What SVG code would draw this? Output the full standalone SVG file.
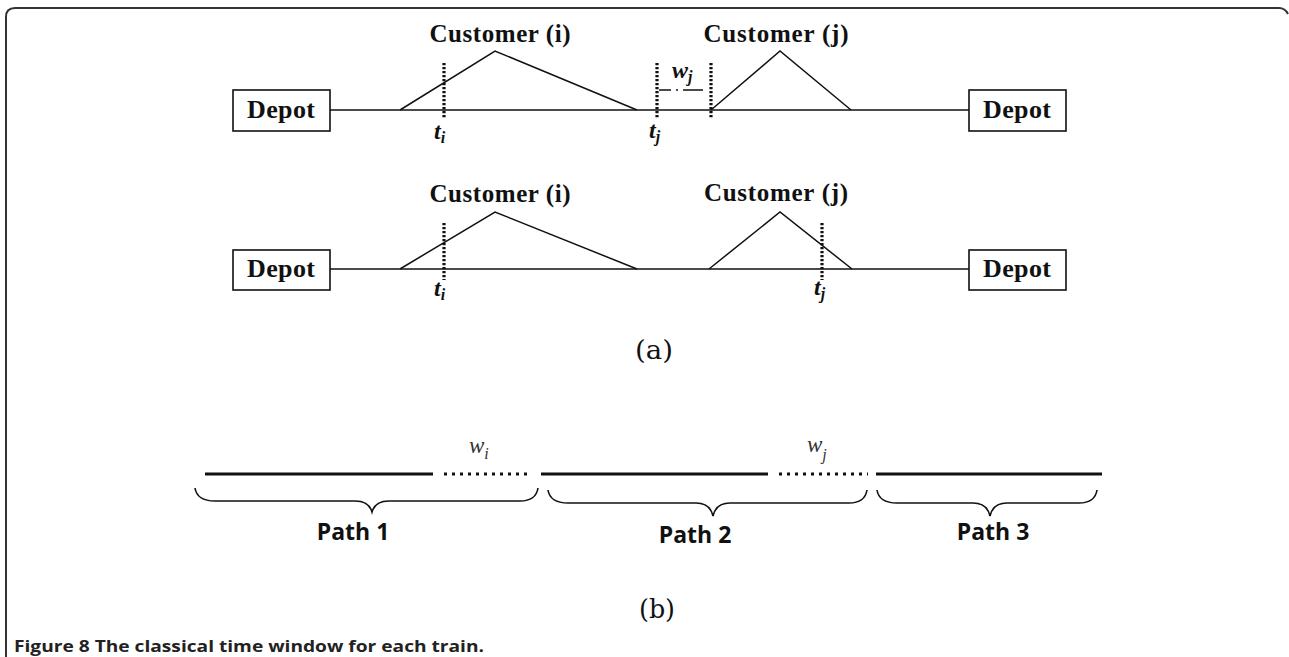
<svg xmlns="http://www.w3.org/2000/svg" width="1289" height="657" viewBox="0 0 1289 657">
<style>
.bg{fill:#fff}
.frame{fill:none;stroke:#333;stroke-width:2}
.box{fill:#fff;stroke:#111;stroke-width:1.6}
.ln{fill:none;stroke:#111;stroke-width:1.5}
.dot{fill:none;stroke:#111;stroke-width:3.2;stroke-dasharray:2.2 1.8}
.dd{fill:none;stroke:#111;stroke-width:1.5;stroke-dasharray:12 5 2 5 20}
.thick{fill:none;stroke:#111;stroke-width:3.2}
.dots{fill:none;stroke:#111;stroke-width:3;stroke-dasharray:3 5}
.brace{fill:none;stroke:#111;stroke-width:1.6}
.depot{font-family:"Liberation Serif",serif;font-weight:bold;font-size:26px;fill:#111;text-anchor:middle}
.cust{font-family:"Liberation Serif",serif;font-weight:bold;font-size:25px;fill:#111;text-anchor:middle}
.var{font-family:"Liberation Serif",serif;font-weight:bold;font-style:italic;font-size:24px;fill:#111}
.wv{font-family:"Liberation Serif",serif;font-style:italic;font-size:23px;fill:#333}
.sub{font-size:16px}
.lbl{font-family:"DejaVu Serif","Liberation Serif",serif;font-size:26px;fill:#111;text-anchor:middle}
.path{font-family:"Open Sans","Liberation Sans",sans-serif;font-weight:bold;font-size:23px;fill:#111;text-anchor:middle}
.cap{font-family:"Open Sans","Liberation Sans",sans-serif;font-weight:bold;font-size:16px;fill:#222}
</style>
<rect class="bg" x="0" y="0" width="1289" height="657"/>
<path class="frame" d="M6,657 L6,17 Q6,8 15,8 L1279,8 Q1285,8 1288,14"/>

<g id="connectors">
  <!-- panel (a) top route -->
  <line class="ln" x1="330" y1="110" x2="969" y2="110"/>
  <polyline class="ln" points="400,110 495,51 637,110"/>
  <polyline class="ln" points="711,110 780,51 851,110"/>
  <line class="dot" x1="444" y1="63" x2="444" y2="119"/>
  <line class="dot" x1="657" y1="63" x2="657" y2="119"/>
  <line class="dot" x1="711" y1="63" x2="711" y2="119"/>
  <line class="dd" x1="659" y1="90" x2="709" y2="90"/>
  <!-- panel (a) bottom route -->
  <line class="ln" x1="330" y1="269" x2="969" y2="269"/>
  <polyline class="ln" points="400,269 495,212 637,269"/>
  <polyline class="ln" points="709,269 780,212 852,269"/>
  <line class="dot" x1="444" y1="223" x2="444" y2="280"/>
  <line class="dot" x1="822" y1="223" x2="822" y2="280"/>
  <!-- panel (b) -->
  <line class="thick" x1="205" y1="474" x2="433" y2="474"/>
  <line class="dots" x1="444" y1="474" x2="531" y2="474"/>
  <line class="thick" x1="541" y1="474" x2="768" y2="474"/>
  <line class="dots" x1="779" y1="474" x2="868" y2="474"/>
  <line class="thick" x1="876" y1="474" x2="1102" y2="474"/>
  <path class="brace" d="M195,488 Q197,501 215,501 L355,501 Q369,501 372,512 Q375,501 389,501 L520,501 Q536,501 538,488"/>
  <path class="brace" d="M548,490 Q550,503 568,503 L696,503 Q710,503 713,516 Q716,503 730,503 L849,503 Q865,503 867,490"/>
  <path class="brace" d="M877,490 Q879,503 897,503 L973,503 Q987,503 990,516 Q993,503 1007,503 L1079,503 Q1095,503 1097,490"/>
</g>

<g id="depot-a1-left"><rect class="box" x="233" y="90" width="97" height="41"/><text class="depot" x="281" y="118" textLength="68" lengthAdjust="spacing">Depot</text></g>
<g id="depot-a1-right"><rect class="box" x="969" y="90" width="97" height="41"/><text class="depot" x="1017" y="118" textLength="68" lengthAdjust="spacing">Depot</text></g>
<g id="depot-a2-left"><rect class="box" x="233" y="250" width="97" height="40"/><text class="depot" x="281" y="277" textLength="68" lengthAdjust="spacing">Depot</text></g>
<g id="depot-a2-right"><rect class="box" x="969" y="250" width="97" height="40"/><text class="depot" x="1017" y="277" textLength="68" lengthAdjust="spacing">Depot</text></g>

<g id="customer-i-a1"><text class="cust" x="500" y="42" textLength="141" lengthAdjust="spacing">Customer (i)</text></g>
<g id="customer-j-a1"><text class="cust" x="776" y="42" textLength="145" lengthAdjust="spacing">Customer (j)</text></g>
<g id="customer-i-a2"><text class="cust" x="500" y="202" textLength="141" lengthAdjust="spacing">Customer (i)</text></g>
<g id="customer-j-a2"><text class="cust" x="776" y="201" textLength="144" lengthAdjust="spacing">Customer (j)</text></g>

<g id="labels-a">
  <text class="var" x="434" y="139">t<tspan class="sub" dy="4">i</tspan></text>
  <text class="var" x="649" y="138">t<tspan class="sub" dy="4">j</tspan></text>
  <text class="var" x="672" y="78">w<tspan class="sub" dy="4">j</tspan></text>
  <text class="var" x="434" y="296">t<tspan class="sub" dy="4">i</tspan></text>
  <text class="var" x="814" y="295">t<tspan class="sub" dy="4">j</tspan></text>
  <text class="lbl" x="654" y="359" textLength="38" lengthAdjust="spacingAndGlyphs">(a)</text>
</g>

<g id="labels-b">
  <text class="wv" x="469" y="453">w<tspan class="sub" dy="6">i</tspan></text>
  <text class="wv" x="807" y="452">w<tspan class="sub" dy="8">j</tspan></text>
  <text class="path" x="353" y="540">Path 1</text>
  <text class="path" x="695" y="543">Path 2</text>
  <text class="path" x="993" y="540">Path 3</text>
  <text class="lbl" x="657" y="618" font-size="28" textLength="36" lengthAdjust="spacingAndGlyphs">(b)</text>
</g>

<g id="caption"><text class="cap" x="14" y="652" textLength="470" lengthAdjust="spacingAndGlyphs">Figure 8 The classical time window for each train.</text></g>
</svg>
